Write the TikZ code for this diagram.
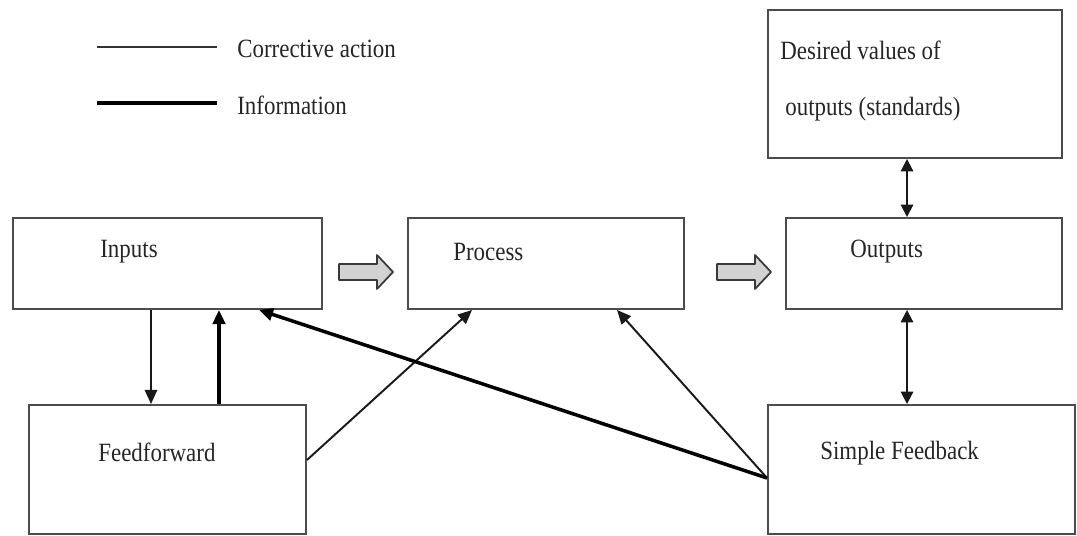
\documentclass[tikz,border=0pt]{standalone}
\usepackage{fontspec}
\setmainfont{Liberation Serif}[FakeStretch=0.87]
\usetikzlibrary{arrows.meta,fit,calc}
\begin{document}
\begin{tikzpicture}[x=0.02cm,y=-0.02cm,
  box/.style={draw=gray!60!black, line width=1.1pt, inner sep=0pt, fill=white},
  lbl/.style={anchor=west, inner sep=0pt, font=\fontsize{15}{18}\selectfont, text=black!85},
  thinline/.style={line width=1.1pt, draw=black!90},
  thickline/.style={line width=2pt, draw=black},
  tip/.style={-{Triangle[length=8pt,width=7pt]}},
  dtip/.style={{Triangle[length=7pt,width=7pt]}-{Triangle[length=7pt,width=7pt]}},
  blockarrow/.style={fill=gray!35, draw=gray!45!black, line width=1pt, line join=round}
]
\fill[white] (0,0) rectangle (1077,536);
\useasboundingbox (0,0) rectangle (1077,536);

% legend
\coordinate (l1a) at (97,47);  \coordinate (l1b) at (217,47);
\coordinate (l2a) at (97,103); \coordinate (l2b) at (217,103);
\draw[thinline, draw=gray!40!black] (l1a) -- (l1b);
\draw[thickline, line width=2.2pt] (l2a) -- (l2b);
\node[lbl] (lg1) at (237,49) {Corrective action};
\node[lbl] (lg2) at (237,105) {Information};

% boxes
\node[box, fit={(13,218)(322,309)}] (inputs) {};
\node[box, fit={(408,218)(684,309)}] (process) {};
\node[box, fit={(786,218)(1062,309)}] (outputs) {};
\node[box, fit={(768,10)(1062,158)}] (desired) {};
\node[box, fit={(29,405)(306,534)}] (ff) {};
\node[box, fit={(768,405)(1075,534)}] (sf) {};

% labels
\node[lbl] (tin) at (100,252) {Inputs};
\node[lbl] (tpr) at (453,252) {Process};
\node[lbl] (tout) at (850,252) {Outputs};
\node[lbl] (td1) at (780,50) {Desired values of};
\node[lbl] (td2) at (785,109) {outputs (standards)};
\node[lbl] (tff) at (98,452) {Feedforward};
\node[lbl] (tsf) at (820,453) {Simple Feedback};

% block arrows
\draw[blockarrow] (339,264) -- (377,264) -- (377,255) -- (393,272) -- (377,289) -- (377,280) -- (339,280) -- cycle;
\draw[blockarrow] (717,264) -- (755,264) -- (755,255) -- (771,272) -- (755,289) -- (755,280) -- (717,280) -- cycle;

% connector coordinates
\coordinate (x1) at (151,0);
\coordinate (x2) at (219,0);
\coordinate (x3) at (472,0);
\coordinate (x4) at (617,0);
\coordinate (x5) at (259,0);
\coordinate (x6) at (907,0);
\coordinate (yff) at (0,460);
\coordinate (ysf) at (0,478);

\draw[thinline, tip] (inputs.south -| x1) -- (ff.north -| x1);
\draw[thickline, tip] (ff.north -| x2) -- (inputs.south -| x2);
\draw[thinline, tip] (ff.east |- yff) -- (process.south -| x3);
\draw[thinline, tip] (sf.west |- ysf) -- (process.south -| x4);
\draw[thickline, tip] (sf.west |- ysf) -- (inputs.south -| x5);
\draw[thinline, dtip] (outputs.south -| x6) -- (sf.north -| x6);
\draw[thinline, dtip] (desired.south -| x6) -- (outputs.north -| x6);
\end{tikzpicture}
\end{document}
